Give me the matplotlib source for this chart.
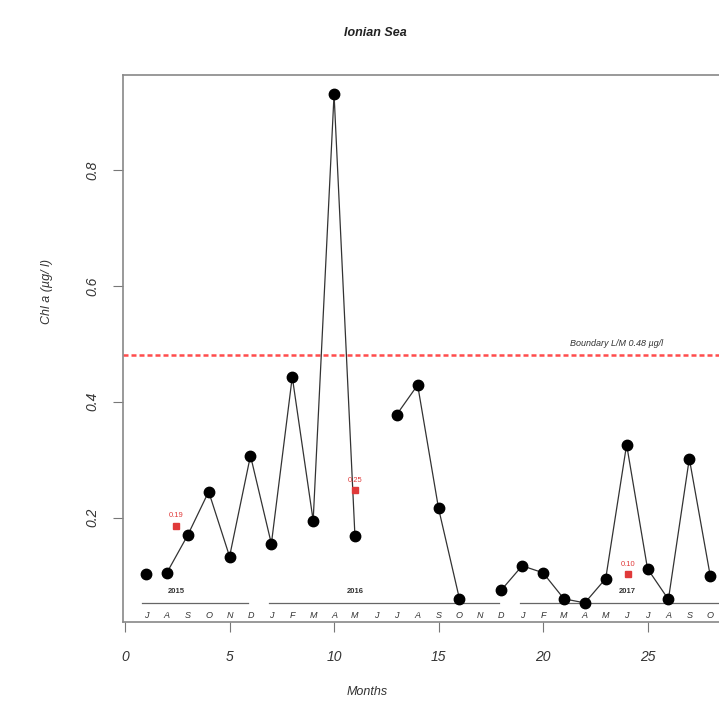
import numpy as np
import matplotlib.pyplot as plt

plt.rcParams['font.family'] = ['Liberation Sans', 'DejaVu Sans']

# monthly Chl a, Jul 2015 - Oct 2017 (nan = no sample)
months = np.arange(1, 29)
chl = [0.103, 0.105, 0.170, 0.245, 0.133, 0.307, 0.155, 0.443, 0.195, 0.931,
       0.168, np.nan, 0.378, 0.429, 0.216, 0.060, np.nan, 0.075, 0.117, 0.105,
       0.060, 0.053, 0.095, 0.326, 0.112, 0.059, 0.302, 0.100]
month_letters = ['J', 'A', 'S', 'O', 'N', 'D',
                 'J', 'F', 'M', 'A', 'M', 'J', 'J', 'A', 'S', 'O', 'N', 'D',
                 'J', 'F', 'M', 'A', 'M', 'J', 'J', 'A', 'S', 'O']

# annual means (red) and year labels
mean_x = [2.45, 11.0, 24.05]
mean_y = [0.186, 0.248, 0.102]
mean_labels = ['0.19', '0.25', '0.10']
years = ['2015', '2016', '2017']
year_spans = [(0.8, 5.9), (6.9, 17.9), (18.9, 30.0)]

boundary = 0.48
boundary_label = 'Boundary L/M 0.48 µg/l'

fig = plt.figure(figsize=(7.19, 7.09), dpi=100)
ax = fig.add_axes([123/719, 87/709, 629/719, 547/709])

ax.plot(months[1:], chl[1:], color='#333333', lw=0.9, zorder=2)
ax.plot(months, chl, 'o', color='black', ms=7.5, zorder=3)

ax.axhline(boundary, color='#ff2020', lw=1.8, linestyle=(0, (2, 1.2)), alpha=0.8, zorder=1)
ax.text(23.5, boundary + 0.012, boundary_label, fontsize=6.5, style='italic',
        color='#333333', ha='center', va='bottom')

ax.plot(mean_x, mean_y, 's', color='#e03a3a', ms=5, zorder=3)
for x, y, s in zip(mean_x, mean_y, mean_labels):
    ax.text(x, y + 0.017, s, fontsize=5.5, color='#e03a3a', ha='center', va='center')

for (a, b), yr, x in zip(year_spans, years, mean_x):
    ax.plot([a, b], [0.053, 0.053], color='#666666', lw=0.9, zorder=1)
    ax.text(x, 0.072, yr, fontsize=5.5, fontweight='bold', ha='center', va='center',
            color='#333333')

for m, lt in zip(months, month_letters):
    ax.text(m, 0.032, lt, fontsize=6.5, style='italic', ha='center', va='center',
            color='#333333')

ax.set_xlim(-0.1, 30)
ax.set_ylim(0.02, 0.964)
ax.set_xticks([0, 5, 10, 15, 20, 25])
ax.set_yticks([0.2, 0.4, 0.6, 0.8])
ax.set_yticklabels(['0.2', '0.4', '0.6', '0.8'], rotation=90, va='center')
ax.tick_params(axis='both', direction='out', length=7, width=0.8, color='#777777',
               labelsize=10, labelcolor='#333333')
ax.tick_params(axis='x', pad=13)
ax.tick_params(axis='y', pad=10)
for lab in ax.get_xticklabels() + ax.get_yticklabels():
    lab.set_style('italic')
for s in ax.spines.values():
    s.set_color('#888888')
    s.set_linewidth(1.2)

fig.text(375/719, 1 - 33/709, 'Ionian Sea', fontsize=9, fontweight='bold',
         style='italic', ha='center', va='center', color='#222222')
fig.text(367/719, 1 - 692/709, 'Months', fontsize=9, style='italic',
         ha='center', va='center', color='#333333')
fig.text(47/719, 1 - 292/709, 'Chl a (µg/ l)', fontsize=9, style='italic',
         rotation=90, ha='center', va='center', color='#333333')

plt.savefig('out.png', dpi=100)
